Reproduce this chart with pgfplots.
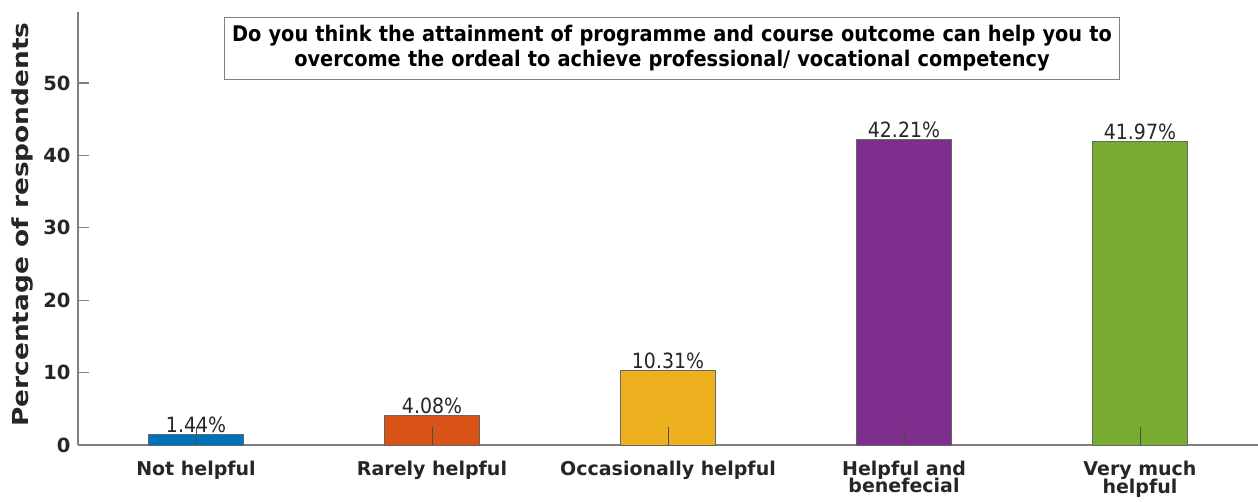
\documentclass[border=0pt]{standalone}
\usepackage{pgfplots}
\pgfplotsset{compat=1.18}
\usepackage{graphicx}
\usepackage{fontspec}
\setmainfont{DejaVu Sans}
\newfontfamily\condfont{DejaVu Sans Condensed}
\newfontfamily\condbold{DejaVu Sans Condensed Bold}
\definecolor{c1}{HTML}{0072BD}
\definecolor{c2}{HTML}{D95319}
\definecolor{c3}{HTML}{EDB120}
\definecolor{c4}{HTML}{7E2F8E}
\definecolor{c5}{HTML}{77AC30}
\definecolor{axgray}{HTML}{808080}
\begin{document}
\begin{tikzpicture}
\begin{axis}[
  at={(0,0)}, anchor=south west,
  scale only axis,
  width=1180pt, height=433pt,
  xmin=0.5, xmax=5.5, ymin=0, ymax=59.8,
  axis x line=bottom, axis y line=left,
  axis line style={axgray, line width=1.2pt, -},
  ytick={0,10,20,30,40,50},
  xtick={1,2,3,4,5},
  xticklabels={Not helpful, Rarely helpful, Occasionally helpful, {Helpful and\\[-4pt]benefecial}, {Very much\\[-3pt]helpful}},
  xticklabel style={font=\fontsize{19}{21}\selectfont\bfseries, color=black!85, align=center, yshift=-2pt, anchor=north},
  yticklabel style={font=\fontsize{19.5}{21}\selectfont\bfseries, color=black!85, xshift=-4pt},
  /pgf/number format/assume math mode=true,
  major tick length=11pt,
  y tick style={axgray, line width=1.2pt},
  x tick style={draw=none},
  xtick pos=bottom, ytick pos=left,
  tick align=inside,
  ylabel={\scalebox{1.2}[1]{Percentage of respondents}},
  ylabel style={font=\fontsize{22}{24}\selectfont\bfseries, color=black!85, yshift=3pt, xshift=4pt},
  ybar, bar width=95pt, bar shift=0pt,
  nodes near coords={\pgfmathprintnumber[fixed,fixed zerofill,precision=2]{\pgfplotspointmeta}\%},
  nodes near coords style={font=\condfont\fontsize{21}{23}\selectfont, color=black!85, inner sep=1pt, anchor=south},
  clip=false,
]
\addplot[fill=c1, draw=black!60, line width=0.8pt] coordinates {(1,1.44)};
\addplot[fill=c2, draw=black!60, line width=0.8pt] coordinates {(2,4.08)};
\addplot[fill=c3, draw=black!60, line width=0.8pt] coordinates {(3,10.31)};
\addplot[fill=c4, draw=black!60, line width=0.8pt] coordinates {(4,42.21)};
\addplot[fill=c5, draw=black!60, line width=0.8pt] coordinates {(5,41.97)};
% inner tick marks at bar centres
\draw[black!70, line width=0.8pt] (axis cs:1,0) -- ([yshift=18pt]axis cs:1,0);
\draw[black!70, line width=0.8pt] (axis cs:2,0) -- ([yshift=18pt]axis cs:2,0);
\draw[black!70, line width=0.8pt] (axis cs:3,0) -- ([yshift=18pt]axis cs:3,0);
\draw[black!70, line width=0.8pt] (axis cs:4,0) -- ([yshift=18pt]axis cs:4,0);
\draw[black!70, line width=0.8pt] (axis cs:5,0) -- ([yshift=18pt]axis cs:5,0);
\end{axis}
\node[draw=axgray, line width=0.8pt, fill=white, align=center, text width=885pt, inner xsep=5pt, inner ysep=8pt,
  font=\condbold\fontsize{21.5}{25}\selectfont] at (594pt,396.5pt)
  {Do you think the attainment of programme and course outcome can help you to\\overcome the ordeal to achieve professional/ vocational competency};
\pgfresetboundingbox
\path (-78pt,-56pt) rectangle (1180pt,445pt);
\end{tikzpicture}
\end{document}
